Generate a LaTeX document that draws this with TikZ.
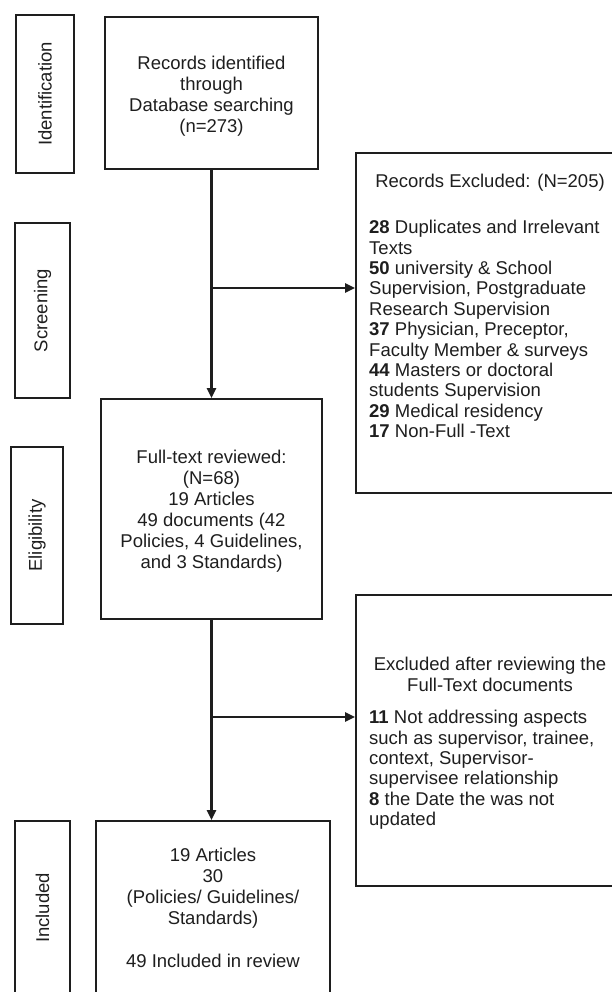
\documentclass[tikz,border=0pt]{standalone}
\usepackage{fontspec}
\setmainfont{Liberation Sans}
\usetikzlibrary{arrows.meta}
\definecolor{ink}{HTML}{1E1E1E}
\tikzset{
  box/.style={draw=ink, line width=1.8pt, inner sep=0pt},
  txt/.style={text=ink, font=\fontsize{18.5}{21}\selectfont, inner sep=0pt},
  rtxt/.style={text=ink, font=\fontsize{18.5}{20.4}\selectfont, inner sep=0pt},
  conn/.style={draw=ink, line width=2.2pt},
  arr/.style={conn, -{Triangle[length=10pt,width=9pt]}}
}
\begin{document}
\begin{tikzpicture}[x=1pt,y=1pt]
\useasboundingbox (0,0) rectangle (611,-992);
% stage labels
\node[box, minimum width=58pt, minimum height=158pt] (sid) at (45,-94) {};
\node[txt, rotate=90] (sidt) at (sid.center) {Identification};
\node[box, minimum width=55pt, minimum height=175pt] (sscr) at (42.5,-310.5) {};
\node[txt, rotate=90] (sscrt) at (sscr.center) {Screening};
\node[box, minimum width=52pt, minimum height=177pt] (selig) at (37,-535.5) {};
\node[txt, rotate=90] (seligt) at (selig.center) {Eligibility};
\node[box, minimum width=55pt, minimum height=174pt] (sinc) at (42.5,-908) {};
\node[txt, rotate=90] (sinct) at (sinc.center) {Included};
% main boxes
\node[box, minimum width=213pt, minimum height=152pt] (rec) at (211.5,-93) {};
\node[txt, align=center] (rect) at (211.5,-96) {Records identified\\through\\Database searching\\(n=273)};
\node[box, minimum width=221pt, minimum height=220pt] (full) at (211.5,-509) {};
\node[txt, align=center] (fullt) at (211.5,-511) {Full-text reviewed:\\(N=68)\\19 Articles\\49 documents (42\\Policies, 4 Guidelines,\\and 3 Standards)};
\node[box, minimum width=234pt, minimum height=176pt] (inc) at (213,-909) {};
\node[txt, align=center, anchor=north] (inct) at (213,-848) {\fontsize{18.5}{21.6}\selectfont 19 Articles\\30\\(Policies/ Guidelines/\\Standards)\\[21.6pt]49 Included in review};
% exclusion boxes
\node[box, minimum width=264pt, minimum height=340pt] (ex1) at (488,-323) {};
\node[txt] (ex1h) at (490,-183) {Records Excluded: (N=205)};
\node[rtxt, align=left, anchor=north west] (ex1t) at (369,-220) {\textbf{28} Duplicates and Irrelevant\\Texts\\\textbf{50} university \& School\\Supervision, Postgraduate\\Research Supervision\\\textbf{37} Physician, Preceptor,\\Faculty Member \& surveys\\\textbf{44} Masters or doctoral\\students Supervision\\\textbf{29} Medical residency\\\textbf{17} Non-Full -Text};
\node[box, minimum width=264pt, minimum height=291pt] (ex2) at (488,-740.5) {};
\node[txt, align=center] (ex2h) at (490,-674) {Excluded after reviewing the\\Full-Text documents};
\node[rtxt, align=left, anchor=north west] (ex2t) at (369,-710) {\textbf{11} Not addressing aspects\\such as supervisor, trainee,\\context, Supervisor-\\supervisee relationship\\\textbf{8} the Date the was not\\updated};
% connectors
\coordinate (b1) at (rec.south |- 0,-288);
\coordinate (b2) at (full.south |- 0,-717);
\draw[arr] (rec.south) -- (rec.south |- full.north);
\draw[arr] (b1) -- (b1 -| ex1.west);
\draw[arr] (full.south) -- (full.south |- inc.north);
\draw[arr] (b2) -- (b2 -| ex2.west);
\end{tikzpicture}
\end{document}
